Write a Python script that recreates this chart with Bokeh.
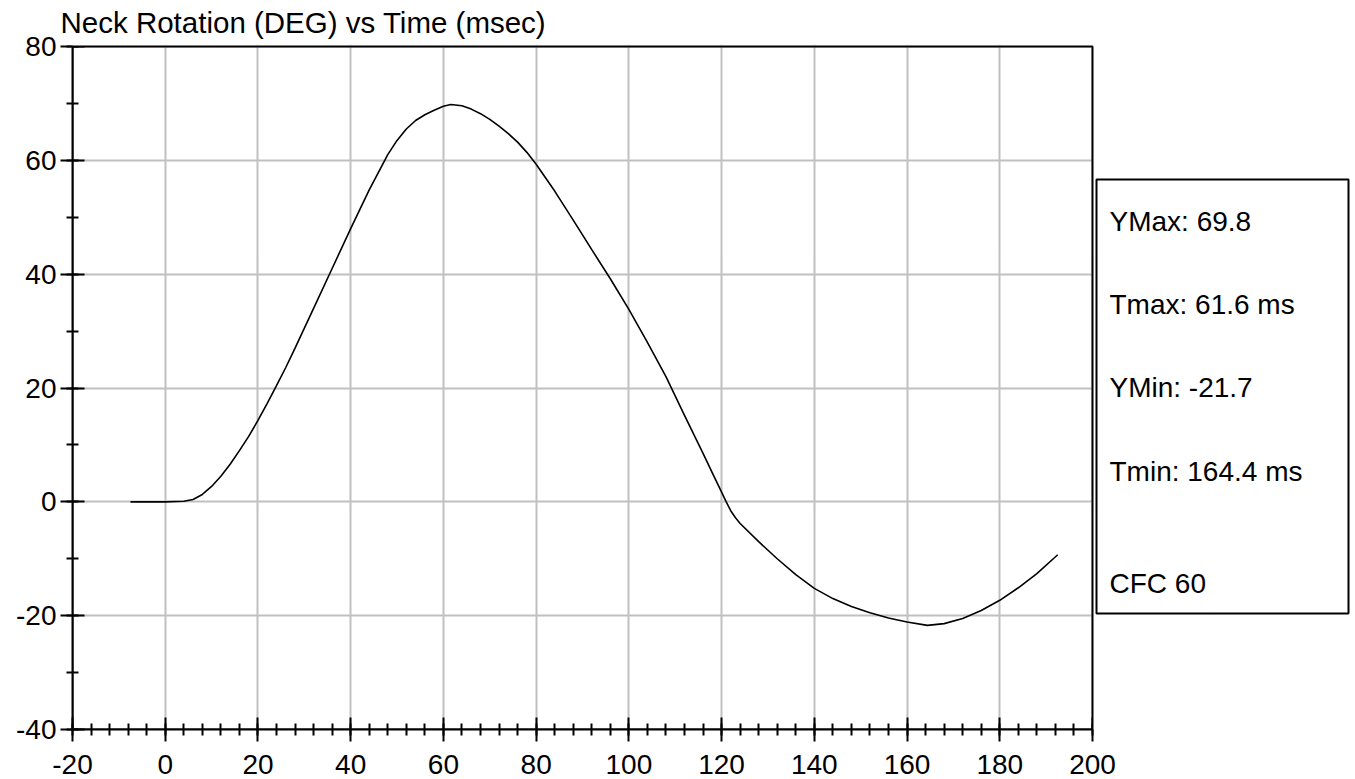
from bokeh.plotting import figure
from bokeh.models import Range1d, FixedTicker, Label, BoxAnnotation
from bokeh.embed import file_html
from bokeh.resources import INLINE

# ---------------- data ----------------
time_ms = [-7.5, 0, 4, 6, 8, 10, 12, 14, 16, 18, 20, 22, 24, 26, 28, 32, 36, 40, 44, 48, 50,
           52, 54, 56, 58, 60, 61.6, 64, 66, 68, 70, 72, 74, 76, 78, 80, 84, 88, 92, 96, 100,
           104, 108, 112, 116, 118, 120, 121, 122, 123, 124, 128, 132, 136, 140, 144, 148,
           152, 156, 160, 164.4, 168, 172, 176, 180, 184, 188, 192.5]
rotation_deg = [0.0, 0.0, 0.1, 0.4, 1.3, 2.7, 4.5, 6.6, 9.0, 11.5, 14.3, 17.3, 20.4, 23.6,
                27.0, 34.0, 41.0, 48.0, 54.8, 61.0, 63.5, 65.5, 67.0, 68.0, 68.8, 69.5, 69.8,
                69.6, 69.0, 68.2, 67.2, 66.0, 64.7, 63.2, 61.4, 59.3, 54.6, 49.5, 44.3, 39.2,
                33.8, 28.0, 22.0, 15.2, 8.5, 5.1, 1.7, 0.0, -1.6, -2.8, -3.8, -7.0, -10.0,
                -12.8, -15.2, -17.0, -18.4, -19.5, -20.4, -21.1, -21.7, -21.4, -20.5, -19.1,
                -17.3, -15.1, -12.6, -9.3]

x_tick_values = [-20, 0, 20, 40, 60, 80, 100, 120, 140, 160, 180, 200]
x_tick_labels = ["-20", "0", "20", "40", "60", "80", "100", "120", "140", "160", "180", "200"]
x_minor_values = list(range(-20, 201, 4))
y_tick_values = [-40, -20, 0, 20, 40, 60, 80]
y_tick_labels = ["-40", "-20", "0", "20", "40", "60", "80"]
y_minor_values = list(range(-40, 81, 10))

title_text = "Neck Rotation (DEG) vs Time (msec)"
stats_labels = ["YMax: 69.8", "Tmax: 61.6 ms", "YMin: -21.7", "Tmin: 164.4 ms", "CFC 60"]

# ---------------- geometry / style ----------------
FONT = "Liberation Sans"
FS = "28px"
X0, X1 = -20, 200
Y0, Y1 = -40, 80
PLOT_W, PLOT_H = 1020, 683            # pixels of the charted area (-20..200, -40..80)
PX_X = (X1 - X0) / PLOT_W             # data units per pixel
PX_Y = (Y1 - Y0) / PLOT_H
FRAME_W = 1280                        # frame also hosts the stats box on the right
TOP_PAD = 2                           # pixels of frame above y=80 so the top border is whole
x_end = X0 + FRAME_W * PX_X
y_end = Y1 + TOP_PAD * PX_Y

p = figure(width=72 + FRAME_W, height=779, output_backend="svg", toolbar_location=None,
           x_range=Range1d(X0, x_end), y_range=Range1d(Y0, y_end),
           min_border_left=72, min_border_right=0, min_border_top=44, min_border_bottom=50,
           background_fill_color="white", border_fill_color="white")
p.outline_line_color = None

p.title.text = title_text
p.title.text_font = FONT
p.title.text_font_size = "29.5px"
p.title.text_font_style = "normal"
p.title.text_color = "black"
p.title.align = "left"
p.title.vertical_align = "top"
p.title.offset = -12
p.title.standoff = 8

p.xaxis.ticker = FixedTicker(ticks=x_tick_values, minor_ticks=x_minor_values)
p.yaxis.ticker = FixedTicker(ticks=y_tick_values, minor_ticks=y_minor_values)
p.xaxis.bounds = (X0, X1)
p.yaxis.bounds = (Y0, Y1)

for ax in (p.xaxis, p.yaxis):
    ax.axis_line_color = "black"
    ax.axis_line_width = 2
    ax.major_tick_line_color = "black"
    ax.major_tick_line_width = 2
    ax.minor_tick_line_color = "black"
    ax.minor_tick_line_width = 2
    ax.major_tick_in = 12
    ax.major_tick_out = 12
    ax.minor_tick_in = 6
    ax.minor_tick_out = 6
    ax.major_label_text_font = FONT
    ax.major_label_text_font_size = FS
    ax.major_label_text_color = "black"

p.xaxis.major_label_overrides = {v: lab for v, lab in zip(x_tick_values, x_tick_labels)}
p.yaxis.major_label_overrides = {v: lab for v, lab in zip(y_tick_values, y_tick_labels)}
p.yaxis.major_label_standoff = 4
p.xaxis.major_label_standoff = 13

p.xgrid.grid_line_color = "#c0c0c0"
p.xgrid.grid_line_width = 2
p.ygrid.grid_line_color = "#c0c0c0"
p.ygrid.grid_line_width = 2

p.line(time_ms, rotation_deg, line_color="black", line_width=1.6)

# blank out grid outside the charted rectangle (right side and the thin strip on top)
p.add_layout(BoxAnnotation(left=X1, right=x_end, bottom=Y0, top=y_end,
                           fill_color="white", fill_alpha=1.0, line_color=None))
p.add_layout(BoxAnnotation(left=X0, right=x_end, bottom=Y1, top=y_end,
                           fill_color="white", fill_alpha=1.0, line_color=None))
# border of the charted rectangle
p.add_layout(BoxAnnotation(left=X0, right=X1, bottom=Y0, top=Y1,
                           fill_alpha=0.0, line_color="black", line_width=2, line_alpha=1.0))

# stats box
box_left = X1 + 4 * PX_X
box_right = X1 + 256 * PX_X
box_top = Y1 - 133 * PX_Y
box_bottom = Y1 - 567 * PX_Y
p.add_layout(BoxAnnotation(left=box_left, right=box_right, top=box_top, bottom=box_bottom,
                           fill_color="white", fill_alpha=1.0,
                           line_color="black", line_width=2, line_alpha=1.0))

baseline_px = [175, 258, 341, 425, 537]
for txt, off in zip(stats_labels, baseline_px):
    p.add_layout(Label(x=X1, y=Y1, x_offset=17, y_offset=-off, text=txt,
                       text_font=FONT, text_font_size=FS, text_color="black",
                       text_baseline="alphabetic", text_align="left"))

open("out.html", "w").write(file_html(p, INLINE))
